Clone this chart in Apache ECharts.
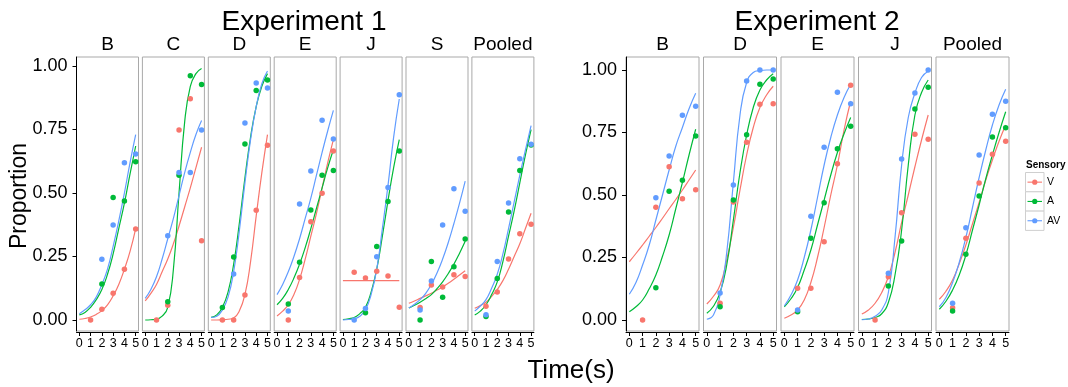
<!DOCTYPE html>
<html><head><meta charset="utf-8">
<script src="https://cdn.jsdelivr.net/npm/echarts@6/dist/echarts.min.js"></script>
<style>html,body{margin:0;padding:0;background:#fff}#c{width:1068px;height:387px}</style>
</head><body><div id="c"></div>
<script>
// ---------- data ----------
const sensory = ['V', 'A', 'AV'];
const timePoints = [1, 2, 3, 4, 5];
const fitX = [0, 0.5, 1, 1.5, 2, 2.5, 3, 3.5, 4, 4.5, 5];
const xTickLabels = [0, 1, 2, 3, 4, 5];
const yTickLabels = [0, 0.25, 0.5, 0.75, 1];
const exp1Panels = ['B', 'C', 'D', 'E', 'J', 'S', 'Pooled'];
const exp2Panels = ['B', 'D', 'E', 'J', 'Pooled'];

// Experiment 1 observed proportions (x = 1..5)
const e1B_V = [0.0, 0.042, 0.105, 0.20, 0.358];
const e1B_A = [null, 0.142, 0.482, 0.468, 0.623];
const e1B_AV = [null, 0.239, 0.374, 0.619, 0.654];
const e1C_V = [0.0, 0.058, 0.748, 0.871, 0.312];
const e1C_A = [null, 0.072, 0.57, 0.962, 0.927];
const e1C_AV = [null, 0.332, 0.581, 0.581, 0.748];
const e1D_V = [0.0, 0.0, 0.098, 0.432, 0.688];
const e1D_A = [0.049, 0.248, 0.693, 0.904, 0.945];
const e1D_AV = [null, 0.181, 0.776, 0.933, 0.913];
const e1E_V = [0.0, 0.167, 0.387, 0.499, 0.665];
const e1E_A = [0.063, 0.227, 0.433, 0.57, 0.589];
const e1E_AV = [0.035, 0.457, 0.587, 0.786, 0.713];
const e1J_V = [0.188, 0.165, 0.192, 0.173, 0.05];
const e1J_A = [null, 0.029, 0.289, 0.467, 0.665];
const e1J_AV = [0.0, 0.045, 0.249, 0.522, 0.887];
const e1S_V = [0.049, 0.138, 0.13, 0.178, 0.171];
const e1S_A = [0.0, 0.23, 0.09, 0.21, 0.319];
const e1S_AV = [0.039, 0.154, 0.374, 0.517, 0.428];
const e1P_V = [0.054, 0.11, 0.24, 0.34, 0.377];
const e1P_A = [0.014, 0.163, 0.425, 0.589, 0.689];
const e1P_AV = [0.021, 0.23, 0.461, 0.635, 0.692];

// Experiment 1 fitted curves (read at fitX)
const e1B_Vfit = [0.003, 0.006, 0.012, 0.022, 0.037, 0.06, 0.095, 0.14, 0.2, 0.27, 0.36];
const e1B_Afit = [0.02, 0.03, 0.05, 0.08, 0.12, 0.18, 0.26, 0.36, 0.46, 0.575, 0.685];
const e1B_AVfit = [0.025, 0.04, 0.06, 0.09, 0.14, 0.2, 0.29, 0.39, 0.5, 0.62, 0.73];
const e1C_Vfit = [0.075, 0.105, 0.14, 0.19, 0.24, 0.3, 0.37, 0.445, 0.52, 0.6, 0.68];
const e1C_Afit = [0.0, 0.001, 0.003, 0.015, 0.05, 0.2, 0.5, 0.78, 0.92, 0.97, 0.99];
const e1C_AVfit = [0.085, 0.12, 0.17, 0.24, 0.32, 0.4, 0.49, 0.58, 0.66, 0.73, 0.785];
const e1D_Vfit = [0.0, 0.0, 0.001, 0.003, 0.008, 0.035, 0.1, 0.23, 0.41, 0.58, 0.73];
const e1D_Afit = [0.01, 0.02, 0.05, 0.11, 0.22, 0.38, 0.56, 0.72, 0.84, 0.92, 0.97];
const e1D_AVfit = [0.01, 0.015, 0.04, 0.09, 0.19, 0.35, 0.54, 0.71, 0.84, 0.93, 0.98];
const e1E_Vfit = [0.016, 0.035, 0.06, 0.1, 0.16, 0.24, 0.33, 0.42, 0.52, 0.62, 0.71];
const e1E_Afit = [0.06, 0.085, 0.12, 0.165, 0.22, 0.285, 0.36, 0.44, 0.52, 0.6, 0.67];
const e1E_AVfit = [0.1, 0.14, 0.19, 0.25, 0.32, 0.4, 0.48, 0.57, 0.66, 0.745, 0.825];
const e1J_Vfit = [0.155, 0.155, 0.155, 0.155, 0.155, 0.155, 0.155, 0.155, 0.155, 0.155, 0.155];
const e1J_Afit = [0.002, 0.005, 0.01, 0.025, 0.05, 0.11, 0.2, 0.33, 0.47, 0.6, 0.71];
const e1J_AVfit = [0.0, 0.002, 0.005, 0.015, 0.04, 0.1, 0.2, 0.36, 0.53, 0.72, 0.87];
const e1S_Vfit = [0.066, 0.075, 0.085, 0.095, 0.105, 0.118, 0.13, 0.145, 0.16, 0.177, 0.194];
const e1S_Afit = [0.047, 0.058, 0.07, 0.084, 0.1, 0.123, 0.15, 0.183, 0.22, 0.263, 0.31];
const e1S_AVfit = [0.047, 0.062, 0.08, 0.105, 0.14, 0.185, 0.24, 0.305, 0.38, 0.46, 0.547];
const e1P_Vfit = [0.046, 0.057, 0.07, 0.093, 0.12, 0.155, 0.2, 0.25, 0.3, 0.36, 0.42];
const e1P_Afit = [0.02, 0.035, 0.06, 0.1, 0.15, 0.23, 0.33, 0.43, 0.54, 0.65, 0.75];
const e1P_AVfit = [0.035, 0.055, 0.08, 0.125, 0.18, 0.26, 0.36, 0.465, 0.57, 0.67, 0.765];

// Experiment 2 observed proportions (x = 1..5)
const e2B_V = [0.0, 0.451, 0.613, 0.485, 0.521];
const e2B_A = [null, 0.129, 0.515, 0.559, 0.736];
const e2B_AV = [null, 0.489, 0.656, 0.819, 0.855];
const e2D_V = [0.067, 0.472, 0.711, 0.863, 0.865];
const e2D_A = [0.053, 0.48, 0.741, 0.943, 0.964];
const e2D_AV = [0.108, 0.54, 0.956, 1.0, 1.0];
const e2E_V = [0.127, 0.127, 0.313, 0.625, 0.939];
const e2E_A = [0.033, 0.327, 0.469, 0.685, 0.775];
const e2E_AV = [0.04, 0.415, 0.691, 0.911, 0.865];
const e2J_V = [0.0, 0.173, 0.429, 0.743, 0.723];
const e2J_A = [null, 0.136, 0.316, 0.844, 0.931];
const e2J_AV = [null, 0.187, 0.644, 0.908, 1.0];
const e2P_V = [0.049, 0.327, 0.548, 0.663, 0.715];
const e2P_A = [0.036, 0.263, 0.496, 0.732, 0.769];
const e2P_AV = [0.067, 0.369, 0.66, 0.823, 0.875];

// Experiment 2 fitted curves (read at fitX)
const e2B_Vfit = [0.233, 0.266, 0.3, 0.335, 0.37, 0.407, 0.445, 0.482, 0.52, 0.56, 0.6];
const e2B_Afit = [0.033, 0.053, 0.08, 0.125, 0.18, 0.255, 0.34, 0.445, 0.55, 0.66, 0.763];
const e2B_AVfit = [0.103, 0.15, 0.22, 0.3, 0.4, 0.5, 0.6, 0.695, 0.77, 0.845, 0.907];
const e2D_Vfit = [0.064, 0.095, 0.14, 0.24, 0.37, 0.52, 0.66, 0.77, 0.85, 0.9, 0.935];
const e2D_Afit = [0.027, 0.055, 0.11, 0.22, 0.4, 0.59, 0.74, 0.85, 0.92, 0.96, 0.985];
const e2D_AVfit = [0.003, 0.02, 0.1, 0.27, 0.55, 0.82, 0.95, 0.99, 0.998, 1.0, 1.0];
const e2E_Vfit = [0.007, 0.02, 0.04, 0.08, 0.15, 0.25, 0.37, 0.5, 0.62, 0.76, 0.876];
const e2E_Afit = [0.053, 0.085, 0.13, 0.2, 0.28, 0.38, 0.48, 0.58, 0.67, 0.745, 0.81];
const e2E_AVfit = [0.056, 0.1, 0.16, 0.25, 0.36, 0.49, 0.62, 0.73, 0.82, 0.89, 0.943];
const e2J_Vfit = [0.024, 0.04, 0.067, 0.11, 0.173, 0.27, 0.39, 0.5, 0.613, 0.72, 0.82];
const e2J_Afit = [0.002, 0.004, 0.01, 0.025, 0.07, 0.18, 0.36, 0.62, 0.82, 0.91, 0.96];
const e2J_AVfit = [0.001, 0.004, 0.015, 0.04, 0.11, 0.33, 0.62, 0.81, 0.907, 0.97, 0.995];
const e2P_Vfit = [0.083, 0.115, 0.16, 0.225, 0.3, 0.385, 0.47, 0.56, 0.64, 0.715, 0.78];
const e2P_Afit = [0.043, 0.075, 0.12, 0.18, 0.26, 0.36, 0.46, 0.565, 0.66, 0.75, 0.833];
const e2P_AVfit = [0.053, 0.09, 0.15, 0.23, 0.33, 0.45, 0.57, 0.68, 0.78, 0.86, 0.923];

// ---------- assemble ----------
const panelData = [
  [e1B_V, e1B_A, e1B_AV, e1B_Vfit, e1B_Afit, e1B_AVfit],
  [e1C_V, e1C_A, e1C_AV, e1C_Vfit, e1C_Afit, e1C_AVfit],
  [e1D_V, e1D_A, e1D_AV, e1D_Vfit, e1D_Afit, e1D_AVfit],
  [e1E_V, e1E_A, e1E_AV, e1E_Vfit, e1E_Afit, e1E_AVfit],
  [e1J_V, e1J_A, e1J_AV, e1J_Vfit, e1J_Afit, e1J_AVfit],
  [e1S_V, e1S_A, e1S_AV, e1S_Vfit, e1S_Afit, e1S_AVfit],
  [e1P_V, e1P_A, e1P_AV, e1P_Vfit, e1P_Afit, e1P_AVfit],
  [e2B_V, e2B_A, e2B_AV, e2B_Vfit, e2B_Afit, e2B_AVfit],
  [e2D_V, e2D_A, e2D_AV, e2D_Vfit, e2D_Afit, e2D_AVfit],
  [e2E_V, e2E_A, e2E_AV, e2E_Vfit, e2E_Afit, e2E_AVfit],
  [e2J_V, e2J_A, e2J_AV, e2J_Vfit, e2J_Afit, e2J_AVfit],
  [e2P_V, e2P_A, e2P_AV, e2P_Vfit, e2P_Afit, e2P_AVfit]
];

const colors = { V: '#F8766D', A: '#00BA38', AV: '#619CFF' };
const FONT = 'Liberation Sans, Arial, Helvetica, sans-serif';

// layout
const panels = [];
exp1Panels.forEach((name, i) => panels.push({ name, exp: 1, first: i === 0, left: 76.5 + 65.9 * i, width: 62 }));
exp2Panels.forEach((name, i) => panels.push({ name, exp: 2, first: i === 0, left: 626 + 77.5 * i, width: 73 }));
const gridTop = 57, gridH = 274;
const yRange = { 1: [-0.0433, 1.0354], 2: [-0.044, 1.052] };

const grids = [], xAxes = [], yAxes = [], series = [], graphics = [];
panels.forEach((p, gi) => {
  grids.push({ left: p.left, top: gridTop, width: p.width, height: gridH, show: true,
    borderColor: '#a9a9a9', borderWidth: 1, backgroundColor: '#fff', containLabel: false, outerBoundsMode: 'none' });
  xAxes.push({ type: 'value', gridIndex: gi, min: -0.25, max: 5.25, offset: 1,
    splitLine: { show: false },
    axisLine: { show: true, onZero: false, lineStyle: { color: '#000', width: 1 } },
    axisTick: { show: true, customValues: xTickLabels, length: 4, lineStyle: { color: '#000', width: 1 } },
    axisLabel: { show: true, customValues: xTickLabels, fontSize: 12.5, color: '#000', margin: 5, fontFamily: FONT }
  });
  const yr = yRange[p.exp];
  yAxes.push({ type: 'value', gridIndex: gi, min: yr[0], max: yr[1],
    splitLine: { show: false },
    axisLine: { show: p.first, onZero: false, lineStyle: { color: '#000', width: 1 } },
    axisTick: { show: p.first, customValues: yTickLabels, length: 4, lineStyle: { color: '#000', width: 1 } },
    axisLabel: { show: p.first, customValues: yTickLabels, fontSize: 18, color: '#000', margin: 9, fontFamily: FONT,
      formatter: v => Number(v).toFixed(2) }
  });
  const d = panelData[gi];
  sensory.forEach((s, si) => {
    const fit = d[3 + si];
    series.push({ type: 'line', xAxisIndex: gi, yAxisIndex: gi, showSymbol: false, smooth: 0.5,
      silent: true, z: 2, lineStyle: { color: colors[s], width: 1.2 },
      data: fitX.map((x, k) => [x, fit[k]]) });
  });
  sensory.forEach((s, si) => {
    const obs = d[si];
    series.push({ type: 'scatter', xAxisIndex: gi, yAxisIndex: gi, symbolSize: 5.5, silent: true, z: 3,
      itemStyle: { color: colors[s], opacity: 1 },
      data: timePoints.map((t, k) => obs[k] == null ? null : [t, obs[k]]).filter(v => v) });
  });
  graphics.push({ type: 'text', x: p.left + p.width / 2, y: 45,
    style: { text: p.name, fontSize: 19, fontFamily: FONT, fill: '#000', align: 'center', verticalAlign: 'middle' } });
});

graphics.push({ type: 'text', x: 304, y: 22, style: { text: 'Experiment 1', fontSize: 28, fontFamily: FONT, fill: '#000', align: 'center', verticalAlign: 'middle' } });
graphics.push({ type: 'text', x: 817, y: 22, style: { text: 'Experiment 2', fontSize: 28, fontFamily: FONT, fill: '#000', align: 'center', verticalAlign: 'middle' } });
graphics.push({ type: 'text', x: 20, y: 196, rotation: Math.PI / 2, style: { text: 'Proportion', fontSize: 23, fontFamily: FONT, fill: '#000', align: 'center', verticalAlign: 'middle' } });
graphics.push({ type: 'text', x: 571, y: 371, style: { text: 'Time(s)', fontSize: 26, fontFamily: FONT, fill: '#000', align: 'center', verticalAlign: 'middle' } });

// legend
graphics.push({ type: 'text', x: 1026, y: 165, style: { text: 'Sensory', fontSize: 10, fontWeight: 'bold', fontFamily: FONT, fill: '#000', align: 'left', verticalAlign: 'middle' } });
sensory.forEach((s, i) => {
  const top = 172.5 + 19.3 * i, cy = top + 9.65;
  graphics.push({ type: 'rect', shape: { x: 1025.5, y: top, width: 18.5, height: 19.3 }, style: { fill: '#fff', stroke: '#cfcfcf', lineWidth: 1 } });
  graphics.push({ type: 'line', shape: { x1: 1027.5, y1: cy, x2: 1042, y2: cy }, style: { stroke: colors[s], lineWidth: 1.1 } });
  graphics.push({ type: 'circle', shape: { cx: 1034.75, cy: cy, r: 2.6 }, style: { fill: colors[s] } });
  graphics.push({ type: 'text', x: 1047, y: cy, style: { text: s, fontSize: 10.5, fontFamily: FONT, fill: '#000', align: 'left', verticalAlign: 'middle' } });
});

const chart = echarts.init(document.getElementById('c'), null, { renderer: 'canvas' });
chart.setOption({
  animation: false,
  backgroundColor: '#fff',
  grid: grids, xAxis: xAxes, yAxis: yAxes, series: series,
  graphic: graphics
});
</script></body></html>
